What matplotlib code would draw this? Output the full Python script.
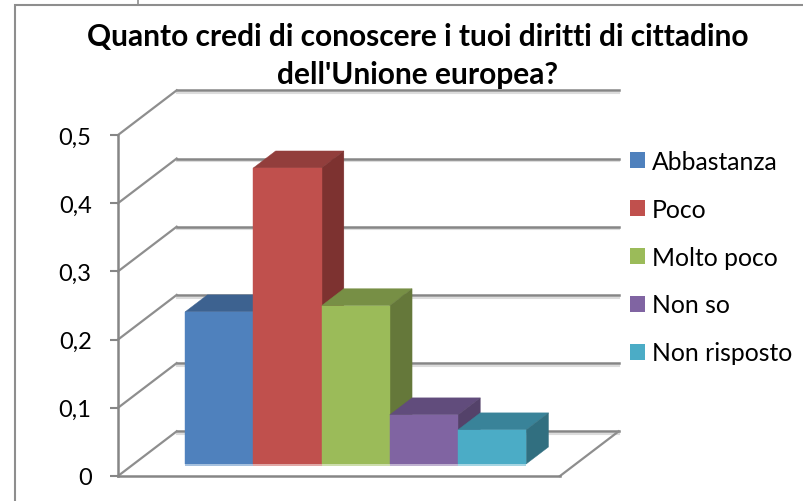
import matplotlib
matplotlib.use('Agg')
import matplotlib.pyplot as plt
from matplotlib.patches import Patch, Polygon, Rectangle

plt.rcParams['font.family'] = ['Lato', 'DejaVu Sans']

categories = ['Abbastanza', 'Poco', 'Molto poco', 'Non so', 'Non risposto']
values = [0.223, 0.434, 0.232, 0.072, 0.05]
yticks = [0, 0.1, 0.2, 0.3, 0.4, 0.5]
ytick_labels = ['0', '0,1', '0,2', '0,3', '0,4', '0,5']
front = ['#4F81BD', '#C0504D', '#9BBB59', '#8064A2', '#4BACC6']
top = ['#3D6290', '#923E3C', '#778F45', '#614C7C', '#398399']
side = ['#34547B', '#7D3230', '#65783A', '#54426A', '#316F80']
base = ['#A5C0DE', '#E0A8A6', '#CDDDAC', '#BFB1D0', '#A5D5E2']

W, H = 804, 502
GRID = '#868686'

# oblique fake 3d: depth 0..1 shifts the point right and up
DX = 0.86
DY = 0.0655
BAR_D0 = 0.27
BAR_D1 = 0.65


def pr(x, y, d):
    return (x + DX * d, y + DY * d)


fig = plt.figure(figsize=(W / 100, H / 100), dpi=100)
ax = fig.add_axes([118 / W, 1 - 477 / H, 442 / W, 341 / H])
ax.set_xlim(-1.252, 5.228)
ax.set_ylim(0, 0.5)
ax.patch.set_alpha(0)

# chart frame, runs off the picture on the right and at the bottom
fig.patches.append(Rectangle((15.5 / W, 1 - 560 / H), 900 / W, 554 / H, transform=fig.transFigure,
                             fc='none', ec='#8E8E8E', lw=1.5))
fig.add_artist(plt.Line2D([137.5 / W, 137.5 / W], [1 - 6 / H, 1], color='#8E8E8E', lw=1.2))

xl, xr = ax.get_xlim()
for t in yticks:
    x0, y0 = pr(xl, t, 1)
    x1, y1 = pr(xr, t, 1)
    # light shadow under the gridline
    ax.plot([x0, x1], [y0 - 0.004, y1 - 0.004], color='#DCDCDC', lw=1.5, clip_on=False, zorder=1)
    ax.plot([x0, x1], [y0, y1], color=GRID, lw=1.8, clip_on=False, zorder=1.2)
    x2, y2 = pr(xl, t, 0)
    ax.plot([x2, x0], [y2, y0], color='#8E8E8E', lw=1.6, clip_on=False, zorder=1.2)

# right edge of the floor
x0, y0 = pr(xr, 0, 0)
x1, y1 = pr(xr, 0, 1)
ax.plot([x0, x1], [y0, y1], color='#8E8E8E', lw=1.6, clip_on=False, zorder=1.2)

# bars, left to right so each one covers the side of the one before
for i, v in enumerate(values):
    l, r = i - 0.5, i + 0.5
    a = pr(l, 0, BAR_D0)
    b = pr(r, 0, BAR_D0)
    c = pr(r, v, BAR_D0)
    d = pr(l, v, BAR_D0)
    c2 = pr(r, v, BAR_D1)
    d2 = pr(l, v, BAR_D1)
    b2 = pr(r, 0, BAR_D1)
    z = 2 + i * 0.1
    ax.add_patch(Polygon([d, c, c2, d2], fc=top[i], ec=top[i], lw=0.3, clip_on=False, zorder=z))
    ax.add_patch(Polygon([b, b2, c2, c], fc=side[i], ec=side[i], lw=0.3, clip_on=False, zorder=z))
    ax.add_patch(Polygon([a, b, c, d], fc=front[i], ec=front[i], lw=0.3, clip_on=False, zorder=z + 0.05))
    s0 = pr(l, -0.0035, BAR_D0)
    s1 = pr(r, -0.0035, BAR_D0)
    ax.add_patch(Polygon([s0, s1, b, a], fc=base[i], ec='none', clip_on=False, zorder=z + 0.06))

ax.set_xticks([])
ax.set_yticks(yticks)
ax.set_yticklabels(ytick_labels, fontsize=17, color='black')
ax.tick_params(axis='y', length=6, width=1.5, color=GRID, pad=13)
ax.spines['top'].set_visible(False)
ax.spines['right'].set_visible(False)
for sp in ['left', 'bottom']:
    ax.spines[sp].set_color(GRID)
    ax.spines[sp].set_linewidth(1.8)

fig.text(417.5 / W, 1 - 37 / H, "Quanto credi di conoscere i tuoi diritti di cittadino",
         ha='center', va='center', fontsize=21.5, fontweight='bold', color='black')
fig.text(417.5 / W, 1 - 75 / H, "dell'Unione europea?",
         ha='center', va='center', fontsize=21.5, fontweight='bold', color='black')

handles = [Patch(fc=c, ec='none', label=n) for c, n in zip(front, categories)]
fig.legend(handles=handles, loc='center left', bbox_to_anchor=(623 / W, 1 - 258 / H),
           frameon=False, fontsize=17.8, handlelength=0.6, handleheight=0.6,
           handletextpad=0.28, labelspacing=1.01, borderpad=0, borderaxespad=0.3)

fig.savefig('out.png', dpi=100)
